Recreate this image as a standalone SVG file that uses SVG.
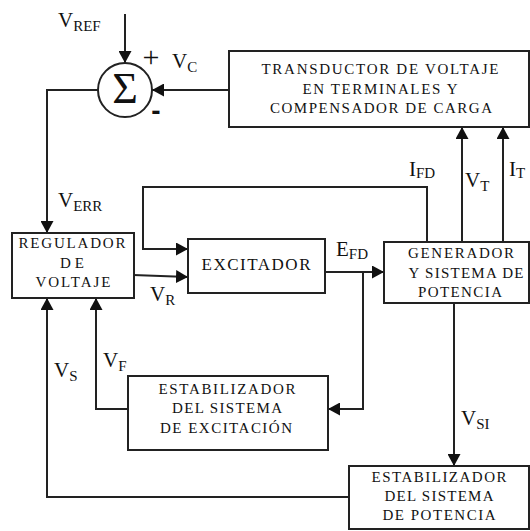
<svg xmlns="http://www.w3.org/2000/svg" width="530" height="531" viewBox="0 0 530 531">
<defs>
<marker id="ah" markerUnits="userSpaceOnUse" markerWidth="13" markerHeight="13" refX="12" refY="6.5" orient="auto">
<path d="M0,0 L12,6.5 L0,13 z" fill="#111"/>
</marker>
<style>
.box{fill:#fff;stroke:#222;stroke-width:2}
.ln{fill:none;stroke:#222;stroke-width:2}
.t{font-family:"Liberation Serif","DejaVu Serif","Noto Serif",serif;font-size:15px;fill:#111;text-anchor:middle}
.lb{font-family:"Liberation Serif","DejaVu Serif","Noto Serif",serif;font-size:21px;fill:#111}
.sb{font-size:15px}
.sym{font-family:"Liberation Serif","DejaVu Serif",serif;fill:#111;text-anchor:middle}
</style>
</defs>
<rect width="530" height="531" fill="#fff"/>

<g id="connectors">
<line class="ln" x1="125" y1="14" x2="125" y2="63" marker-end="url(#ah)"/>
<line class="ln" x1="229" y1="90" x2="152" y2="90" marker-end="url(#ah)"/>
<polyline class="ln" points="98,90 47,90 47,233" marker-end="url(#ah)"/>
<line class="ln" x1="133" y1="275" x2="188" y2="277" marker-end="url(#ah)"/>
<polyline class="ln" points="427,242 427,187 143,187 143,249 188,249" marker-end="url(#ah)"/>
<line class="ln" x1="322" y1="272" x2="384" y2="272" marker-end="url(#ah)"/>
<polyline class="ln" points="363,272 363,409 328,409" marker-end="url(#ah)"/>
<polyline class="ln" points="128,409 96,409 96,298" marker-end="url(#ah)"/>
<polyline class="ln" points="349,497 47,497 47,298" marker-end="url(#ah)"/>
<line class="ln" x1="462" y1="242" x2="462" y2="127" marker-end="url(#ah)"/>
<line class="ln" x1="503" y1="242" x2="503" y2="127" marker-end="url(#ah)"/>
<line class="ln" x1="454" y1="303" x2="454" y2="466" marker-end="url(#ah)"/>
</g>

<g id="sum">
<circle cx="125" cy="90" r="27" fill="#fff" stroke="#222" stroke-width="2"/>
<text class="sym" x="125" y="103" style="font-size:44px">Σ</text>
<text class="sym" x="151" y="67" style="font-size:30px">+</text>
<text x="156" y="120" font-family="Liberation Sans, Arial, sans-serif" font-size="28" font-weight="bold" text-anchor="middle" fill="#111">-</text>
</g>

<g id="transductor">
<rect class="box" x="229" y="51" width="300" height="76"/>
<text class="t" x="380" y="74" textLength="237" lengthAdjust="spacing">TRANSDUCTOR DE  VOLTAJE</text>
<text class="t" x="380" y="94" textLength="155" lengthAdjust="spacing">EN TERMINALES Y</text>
<text class="t" x="381" y="113" textLength="222" lengthAdjust="spacing">COMPENSADOR DE CARGA</text>
</g>

<g id="regulador">
<rect class="box" x="12" y="233" width="122" height="65"/>
<text class="t" x="72" y="248" textLength="107" lengthAdjust="spacing">REGULADOR</text>
<text class="t" x="72" y="268" textLength="24" lengthAdjust="spacing">DE</text>
<text class="t" x="73" y="287" textLength="75" lengthAdjust="spacing">VOLTAJE</text>
</g>

<g id="excitador">
<rect class="box" x="188" y="239" width="137" height="54"/>
<text class="t" x="256" y="270" textLength="109" lengthAdjust="spacing" style="font-size:17px">EXCITADOR</text>
</g>

<g id="generador">
<rect class="box" x="384" y="242" width="145" height="61"/>
<text class="t" x="461" y="258" textLength="106" lengthAdjust="spacing">GENERADOR</text>
<text class="t" x="466" y="278" textLength="115" lengthAdjust="spacing">Y SISTEMA DE</text>
<text class="t" x="460" y="297" textLength="84" lengthAdjust="spacing">POTENCIA</text>
</g>

<g id="estabilizador-excitacion">
<rect class="box" x="128" y="376" width="200" height="74"/>
<text class="t" x="227" y="394" textLength="137" lengthAdjust="spacing">ESTABILIZADOR</text>
<text class="t" x="227" y="413" textLength="110" lengthAdjust="spacing">DEL SISTEMA</text>
<text class="t" x="226" y="433" textLength="132" lengthAdjust="spacing">DE EXCITACIÓN</text>
</g>

<g id="estabilizador-potencia">
<rect class="box" x="349" y="466" width="180" height="63"/>
<text class="t" x="439" y="482" textLength="135" lengthAdjust="spacing">ESTABILIZADOR</text>
<text class="t" x="439" y="501" textLength="109" lengthAdjust="spacing">DEL SISTEMA</text>
<text class="t" x="439" y="520" textLength="113" lengthAdjust="spacing">DE POTENCIA</text>
</g>

<g id="labels">
<text class="lb" x="58" y="27">V<tspan class="sb" dy="4">REF</tspan></text>
<text class="lb" x="172" y="68">V<tspan class="sb" dy="4">C</tspan></text>
<text class="lb" x="58" y="207">V<tspan class="sb" dy="4">ERR</tspan></text>
<text class="lb" x="150" y="301">V<tspan class="sb" dy="4">R</tspan></text>
<text class="lb" x="336" y="256">E<tspan class="sb" dy="3">FD</tspan></text>
<text class="lb" x="409" y="176">I<tspan class="sb" dy="2">FD</tspan></text>
<text class="lb" x="465" y="187">V<tspan class="sb" dy="4">T</tspan></text>
<text class="lb" x="509" y="176">I<tspan class="sb" dy="2">T</tspan></text>
<text class="lb" x="54" y="377">V<tspan class="sb" dy="4">S</tspan></text>
<text class="lb" x="103" y="367">V<tspan class="sb" dy="4">F</tspan></text>
<text class="lb" x="461" y="425">V<tspan class="sb" dy="4">SI</tspan></text>
</g>
</svg>
